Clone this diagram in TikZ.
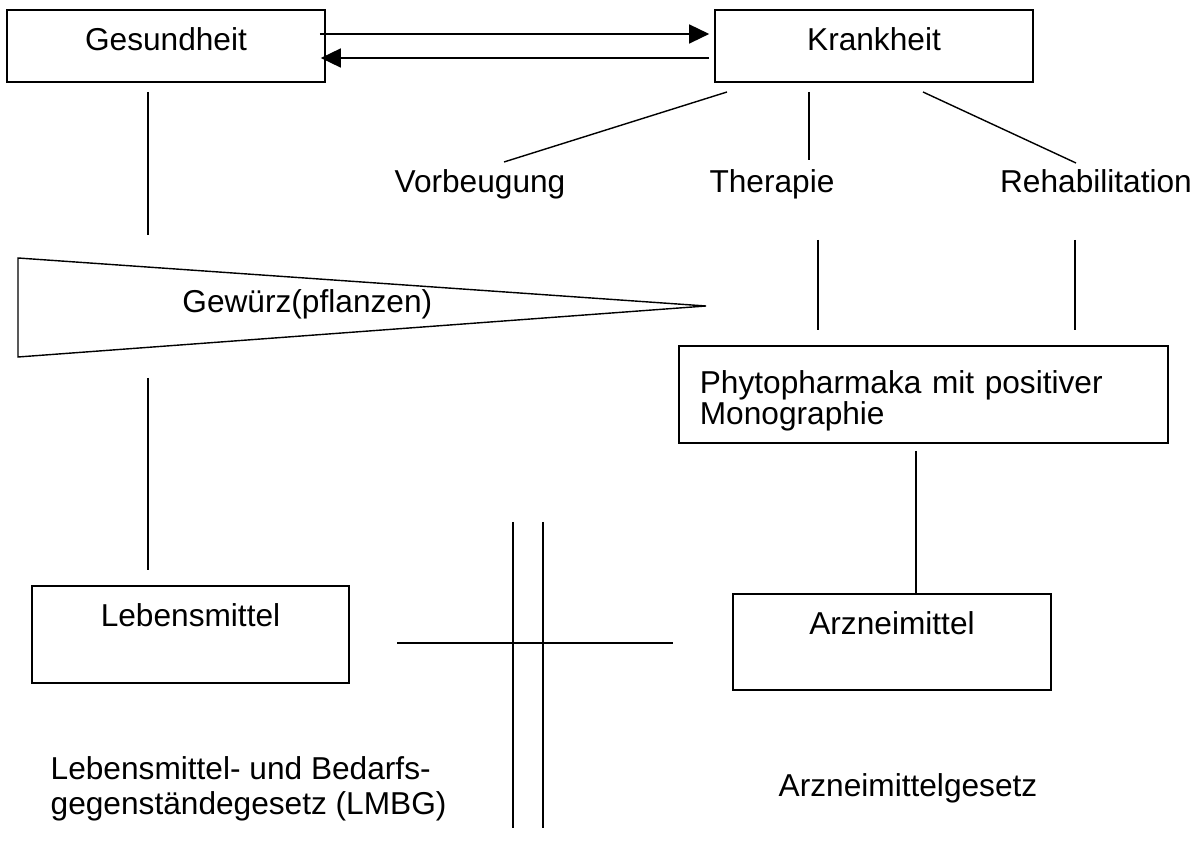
\documentclass[tikz,border=0pt]{standalone}
\usepackage{fontspec}
\setmainfont{Liberation Sans}
\usetikzlibrary{arrows.meta}

\tikzset{
  schrift/.style={font=\fontsize{9pt}{10.5pt}\selectfont},
  kasten/.style={draw, minimum width=3.18cm, minimum height=0.72cm, inner sep=0pt, text height=0.23cm},
  pfeil/.style={-{Triangle[length=0.2cm,width=0.19cm]}}
}

\begin{document}
\begin{tikzpicture}[x=0.01cm, y=-0.01cm, every node/.style={schrift}]
        \useasboundingbox (0,0) rectangle (1202,855);

            %%oben
            \node[kasten, text depth=0.13cm] (gesund) at (166,46) {Gesundheit};
            \node[kasten, text depth=0.13cm] (krank) at (874,46) {Krankheit};

            \draw[pfeil] ([xshift=-0.06cm,yshift=0.12cm]gesund.east) to ([xshift=-0.05cm,yshift=0.12cm]krank.west);
            \draw[pfeil] ([xshift=-0.05cm,yshift=-0.12cm]krank.west) to ([xshift=-0.05cm,yshift=-0.12cm]gesund.east);

            %%verzweigung
            \node[anchor=base] (vorbeugung) at (480,193) {Vorbeugung};
            \node[anchor=base] (therapie) at (772,193) {Therapie};
            \node[anchor=base] (reha) at (1096,193) {Rehabilitation};

            \coordinate (kl) at (727,92);
            \coordinate (km) at (809,92);
            \coordinate (kr) at (923,92);
            \coordinate (vo) at (504,162);
            \coordinate (th) at (809,160);
            \coordinate (re) at (1076,163);
            \draw (kl) to (vo);
            \draw (km) to (th);
            \draw (kr) to (re);

            \coordinate (thu1) at (818,240);
            \coordinate (thu2) at (818,330);
            \coordinate (reu1) at (1075,240);
            \coordinate (reu2) at (1075,330);
            \draw (thu1) to (thu2);
            \draw (reu1) to (reu2);

            %%gewuerz
            \coordinate (go) at (18,258);
            \coordinate (gu) at (18,357);
            \coordinate (gs) at (706,306);
            \draw (go) to (gu) to (gs) to cycle;
                \node[anchor=base west] (gewuerz) at (170,313) {Gewürz(pflanzen)};

            \coordinate (ga1) at (148,92);
            \coordinate (ga2) at (148,235);
            \coordinate (gb1) at (148,378);
            \coordinate (gb2) at (148,570);
            \draw (ga1) to (ga2);
            \draw (gb1) to (gb2);

            %%phytopharmaka
            \node[draw, text width=4.47cm, inner xsep=0.21cm, minimum height=0.97cm, align=left,
                  font=\fontsize{9pt}{8.8pt}\selectfont] (phyto) at (923.5,394.5)
                  {\rule{0pt}{0.35cm}Phytopharmaka mit positiver\\Monographie};

            %%unten
            \node[kasten, minimum width=3.17cm, minimum height=0.97cm, text depth=0.38cm] (lebens) at (190.5,634.5) {Lebensmittel};
            \node[kasten, minimum height=0.96cm, text depth=0.37cm] (arznei) at (892,642) {Arzneimittel};

            \coordinate (pa) at (916,451);
            \draw (pa) to (pa |- arznei.north);

            %%grenze
            \coordinate (h1) at (397,643);
            \coordinate (h2) at (673,643);
            \coordinate (v1o) at (513,522);
            \coordinate (v1u) at (513,828);
            \coordinate (v2o) at (543,522);
            \coordinate (v2u) at (543,828);
            \draw (h1) to (h2);
            \draw (v1o) to (v1u);
            \draw (v2o) to (v2u);

            \node[anchor=north west, inner sep=0pt, align=left,
                  font=\fontsize{9pt}{9.9pt}\selectfont] (lmbg) at (50,756)
                  {Lebensmittel- und Bedarfs-\\gegenständegesetz (LMBG)};
            \node[anchor=base] (amg) at (908,797) {Arzneimittelgesetz};

        \end{tikzpicture}
\end{document}
